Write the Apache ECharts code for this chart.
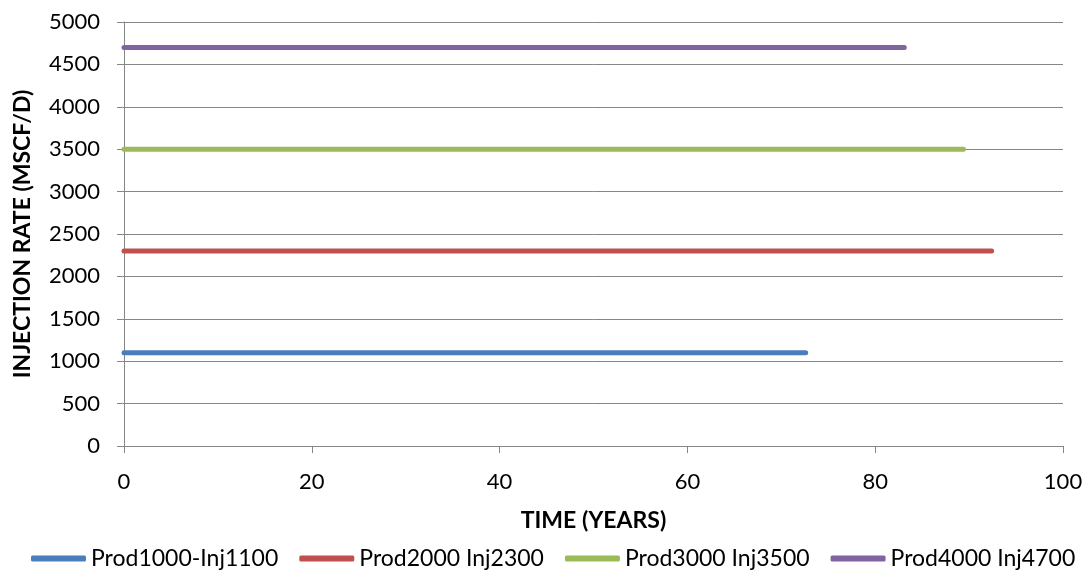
<!DOCTYPE html>
<html>
<head>
<meta charset="utf-8">
<script src="https://cdn.jsdelivr.net/npm/echarts@6/dist/echarts.min.js"></script>
<style>
    html, body { margin: 0; padding: 0; background: #fff; }
    #chart { width: 1086px; height: 577px; }
</style>
</head>
<body>
<div id="chart"></div>
<script>
    // values (time in years, rate in MSCF/D)
    const seriesNames = ['Prod1000-Inj1100', 'Prod2000 Inj2300', 'Prod3000 Inj3500', 'Prod4000 Inj4700'];
    const seriesColors = ['#4A7EBB', '#C0504D', '#9BBB59', '#8064A2'];
    const prod1000Time = [0, 21, 42, 63, 72.6];
    const prod1000Rate = [1100, 1100, 1100, 1100, 1100];
    const prod2000Time = [0, 21, 42, 63, 84, 92.4];
    const prod2000Rate = [2300, 2300, 2300, 2300, 2300, 2300];
    const prod3000Time = [0, 21, 42, 63, 84, 89.4];
    const prod3000Rate = [3500, 3500, 3500, 3500, 3500, 3500];
    const prod4000Time = [0, 21, 42, 63, 83.1];
    const prod4000Rate = [4700, 4700, 4700, 4700, 4700];

    const times = [prod1000Time, prod2000Time, prod3000Time, prod4000Time];
    const rates = [prod1000Rate, prod2000Rate, prod3000Rate, prod4000Rate];

    const font = 'Lato, "Open Sans", sans-serif';
    const chart = echarts.init(document.getElementById('chart'));

    chart.setOption({
        backgroundColor: '#fff',
        animation: false,
        textStyle: { fontFamily: font },
        grid: { left: 124, right: 23, top: 22, bottom: 131 },
        legend: {
            bottom: 2,
            left: 26,
            icon: 'roundRect',
            itemWidth: 55,
            itemHeight: 6,
            itemGap: 21,
            textStyle: { fontSize: 23, color: '#000', fontFamily: font },
            data: seriesNames
        },
        xAxis: {
            type: 'value',
            min: 0,
            max: 100,
            interval: 20,
            name: 'TIME (YEARS)',
            nameLocation: 'middle',
            nameGap: 63,
            nameTextStyle: { fontSize: 23, fontWeight: 'bold', color: '#000' },
            axisLine: { show: true, lineStyle: { color: '#868686', width: 1 } },
            axisTick: { show: true, length: 7, lineStyle: { color: '#868686' } },
            axisLabel: { fontSize: 22, color: '#000', margin: 25 },
            splitLine: { show: false }
        },
        yAxis: {
            type: 'value',
            min: 0,
            max: 5000,
            interval: 500,
            name: 'INJECTION RATE (MSCF/D)',
            nameLocation: 'middle',
            nameGap: 90,
            nameTextStyle: { fontSize: 23, fontWeight: 'bold', color: '#000' },
            axisLine: { show: true, lineStyle: { color: '#868686', width: 1 } },
            axisTick: { show: true, length: 7, lineStyle: { color: '#868686' } },
            axisLabel: { fontSize: 22, color: '#000', margin: 24, formatter: v => String(v) },
            splitLine: { show: true, lineStyle: { color: '#868686', width: 1 } }
        },
        series: seriesNames.map((name, i) => ({
            name: name,
            type: 'line',
            showSymbol: false,
            symbol: 'none',
            color: seriesColors[i],
            lineStyle: { width: 5, color: seriesColors[i], cap: 'round' },
            data: times[i].map((t, j) => [t, rates[i][j]])
        }))
    });
</script>
</body>
</html>
